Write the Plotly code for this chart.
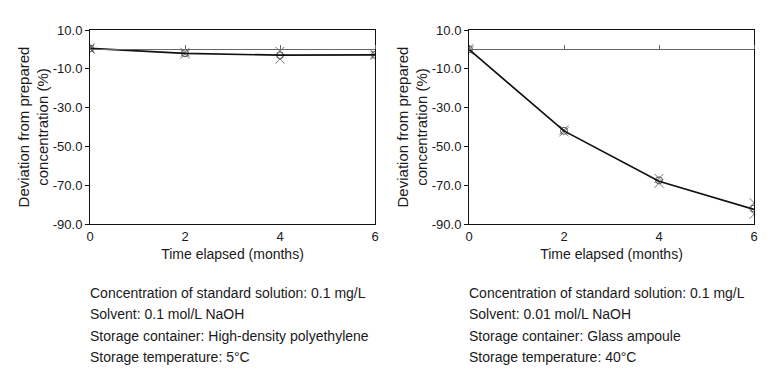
import plotly.graph_objects as go

months = [0, 2, 4, 6]

# Left panel: 0.1 mg/L in 0.1 mol/L NaOH, HDPE, 5 °C
left_mean = [0.5, -2.0, -3.0, -2.8]
left_rep_x = [0.8, -1.5, -1.0, -2.5]
left_rep_x2 = [0.2, -2.5, -5.0, -3.0]
left_rep_o = [0.5, -2.0, -3.0, -2.8]

# Right panel: 0.1 mg/L in 0.01 mol/L NaOH, glass ampoule, 40 °C
right_mean = [0.0, -42.0, -68.0, -82.5]
right_rep_x = [0.5, -41.5, -66.5, -79.0]
right_rep_x2 = [-0.5, -42.5, -69.0, -85.0]
right_rep_o = [0.0, -42.0, -67.5, -82.0]

y_ticks = [10, -10, -30, -50, -70, -90]
y_tick_text = ["10.0", "-10.0", "-30.0", "-50.0", "-70.0", "-90.0"]
x_ticks = [0, 2, 4, 6]

left_notes = ["Concentration of standard solution: 0.1 mg/L",
              "Solvent: 0.1 mol/L NaOH",
              "Storage container: High-density polyethylene",
              "Storage temperature: 5°C"]
right_notes = ["Concentration of standard solution: 0.1 mg/L",
               "Solvent: 0.01 mol/L NaOH",
               "Storage container: Glass ampoule",
               "Storage temperature: 40°C"]

FONT = "Liberation Sans, Arial, sans-serif"
TXT = "#1a1a1a"

# page body has an 8px margin; figure sized to fit the window inside it
OFF = 8
W, H = 776 - OFF, 373 - OFF

def px_x(v):
    return (v - OFF) / W

def px_y(v):
    return (H - (v - OFF)) / H

fig = go.Figure()

def add_panel(xa, ya, za, mean, rx, rx2, ro):
    # empty trace so the zero-crossing axis gets drawn
    fig.add_trace(go.Scatter(x=months, y=[None] * len(months), xaxis=za, yaxis=ya,
                             mode="lines", showlegend=False, hoverinfo="skip"))
    fig.add_trace(go.Scatter(x=months, y=rx, xaxis=xa, yaxis=ya, mode="markers",
                             marker=dict(symbol="x-thin-open", size=9, color="#777777",
                                         line=dict(width=1, color="#777777")),
                             showlegend=False))
    fig.add_trace(go.Scatter(x=months, y=rx2, xaxis=xa, yaxis=ya, mode="markers",
                             marker=dict(symbol="x-thin-open", size=9, color="#777777",
                                         line=dict(width=1, color="#777777")),
                             showlegend=False))
    fig.add_trace(go.Scatter(x=months, y=ro, xaxis=xa, yaxis=ya, mode="markers",
                             marker=dict(symbol="circle-open", size=7, color="#555555",
                                         line=dict(width=1, color="#555555")),
                             showlegend=False))
    fig.add_trace(go.Scatter(x=months, y=mean, xaxis=xa, yaxis=ya, mode="lines",
                             line=dict(color="#111111", width=1.7),
                             showlegend=False))

add_panel("x", "y", "x3", left_mean, left_rep_x, left_rep_x2, left_rep_o)
add_panel("x2", "y2", "x4", right_mean, right_rep_x, right_rep_x2, right_rep_o)

y0, y1 = px_y(224), px_y(30)
zero_pos = y0 + (0 - (-90)) / 100 * (y1 - y0)

xcommon = dict(range=[0, 6], tickvals=x_ticks, showline=True, linecolor="#111111",
               linewidth=1, mirror=True, ticks="", showgrid=False, zeroline=False,
               automargin=False,
               tickfont=dict(family=FONT, size=13, color=TXT),
               title=dict(text="Time elapsed (months)", font=dict(family=FONT, size=14, color=TXT),
                          standoff=6))
ycommon = dict(range=[-90, 10], tickvals=y_ticks, ticktext=y_tick_text, showline=True,
               linecolor="#111111", linewidth=1, mirror=True, ticks="outside", ticklen=4,
               tickcolor="#111111", showgrid=False, zeroline=False, automargin=False,
               tickfont=dict(family=FONT, size=13, color=TXT),
               title=dict(text="Deviation from prepared<br>concentration (%)",
                          font=dict(family=FONT, size=15, color=TXT), standoff=0))

zcommon = dict(range=[0, 6], tickvals=x_ticks, showticklabels=False, showline=True,
               linecolor="#666666", linewidth=1, ticks="outside", ticklen=4,
               tickcolor="#666666", showgrid=False, zeroline=False, side="top",
               anchor="free", position=zero_pos, automargin=False)

fig.update_layout(
    width=W, height=H,
    margin=dict(l=0, r=0, t=0, b=0),
    paper_bgcolor="white", plot_bgcolor="white",
    xaxis=dict(domain=[px_x(90), px_x(375)], anchor="y", **xcommon),
    yaxis=dict(domain=[y0, y1], anchor="x", **ycommon),
    xaxis2=dict(domain=[px_x(469), px_x(754)], anchor="y2", **xcommon),
    yaxis2=dict(domain=[y0, y1], anchor="x2", **ycommon),
    xaxis3=dict(overlaying="x", **zcommon),
    xaxis4=dict(overlaying="x2", **zcommon),
)

for notes, left in ((left_notes, 90), (right_notes, 469)):
    for i, line in enumerate(notes):
        fig.add_annotation(x=px_x(left), y=px_y(293 + 21.4 * i), xref="paper", yref="paper",
                           text=line, showarrow=False, xanchor="left", yanchor="middle",
                           xshift=-2,
                           font=dict(family=FONT, size=14, color=TXT))

fig.write_html("out.html")
